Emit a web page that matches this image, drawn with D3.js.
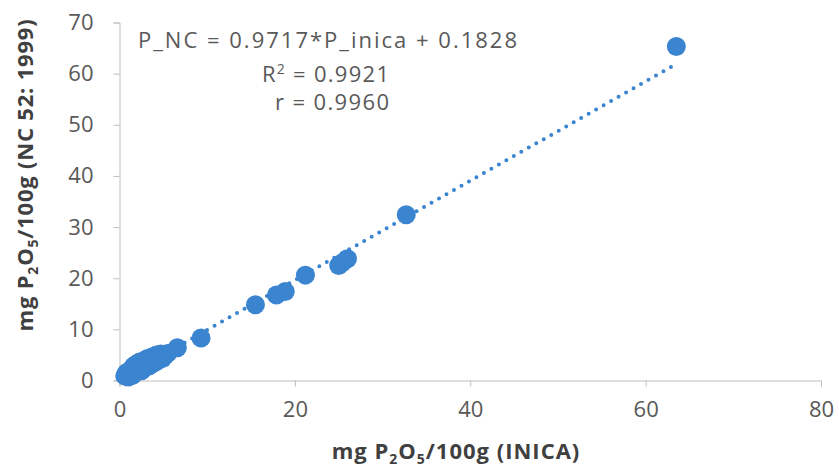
<!DOCTYPE html>
<html>
<head>
<meta charset="utf-8">
<script src="https://cdn.jsdelivr.net/npm/d3@7"></script>
<style>
  body { margin: 0; background: #fff; }
  svg { display: block; font-family: "Open Sans", sans-serif; }
</style>
</head>
<body>
<svg width="839" height="468"></svg>
<script>
// P measured by INICA method (x) vs NC 52:1999 (y)
const xValues = [0.6, 0.8, 1.0, 1.1, 1.2, 1.4, 1.5, 1.6, 1.8, 1.9, 2.0, 2.2, 2.3, 2.5, 2.6, 2.8, 2.9, 3.1, 3.2, 3.4,
  3.5, 3.7, 3.8, 4.0, 4.2, 4.3, 4.5, 4.7, 4.9, 5.2, 5.5, 6.6, 9.3, 15.5, 17.9, 18.9, 21.2, 25.0, 25.4, 26.0, 32.7, 63.5];
const yValues = [0.9, 1.5, 0.7, 1.8, 1.2, 2.2, 1.0, 2.8, 1.6, 3.2, 2.1, 2.6, 3.6, 1.9, 3.0, 3.9, 2.5, 3.3, 4.3, 2.9,
  3.7, 4.6, 3.3, 4.1, 5.0, 3.8, 4.5, 5.2, 4.3, 4.9, 5.3, 6.4, 8.3, 14.8, 16.7, 17.4, 20.6, 22.5, 23.0, 23.8, 32.4, 65.3];
const xTicks = [0, 20, 40, 60, 80];
const yTicks = [0, 10, 20, 30, 40, 50, 60, 70];
const slope = 0.9717, intercept = 0.1828;
const equationLine = "P_NC = 0.9717*P_inica + 0.1828";
const r2Value = "0.9921";
const rValue = "0.9960";

const svg = d3.select("svg");
const blue = "#3b84d0";
const axisGray = "#bfbfbf";
const textGray = "#595959";

const xScale = d3.scaleLinear().domain([0, 80]).range([119.5, 821]);
const yScale = d3.scaleLinear().domain([0, 70]).range([380.5, 22.5]);

/*x axis*/
const xAxis = d3.axisBottom(xScale).tickValues(xTicks).tickSize(6).tickPadding(15);
const gx = svg.append("g").attr("transform", `translate(0, ${yScale(0)})`).call(xAxis);
gx.select(".domain").attr("stroke", axisGray);
gx.selectAll(".tick line").attr("stroke", axisGray);
gx.selectAll(".tick text").attr("fill", textGray).style("font-size", "22px").style("font-family", "Open Sans");

/*y axis*/
const yAxis = d3.axisLeft(yScale).tickValues(yTicks).tickSize(6).tickPadding(20);
const gy = svg.append("g").attr("transform", `translate(${xScale(0)}, 0)`).call(yAxis);
gy.select(".domain").attr("stroke", axisGray);
gy.selectAll(".tick line").attr("stroke", axisGray);
gy.selectAll(".tick text").attr("fill", textGray).style("font-size", "22px").style("font-family", "Open Sans");

/*trend line*/
const xMin = d3.min(xValues), xMax = d3.max(xValues);
const trend = [[xMin, slope * xMin + intercept], [xMax, slope * xMax + intercept]];
svg.append("path")
  .attr("d", d3.line().x(d => xScale(d[0])).y(d => yScale(d[1]))(trend))
  .attr("fill", "none")
  .attr("stroke", blue)
  .attr("stroke-width", 4)
  .attr("stroke-linecap", "round")
  .attr("stroke-dasharray", "0 8.6");

/*points*/
const points = xValues.map((x, i) => ({ x: x, y: yValues[i] }));
svg.append("g").selectAll("circle")
  .data(points)
  .enter().append("circle")
  .attr("cx", d => xScale(d.x))
  .attr("cy", d => yScale(d.y))
  .attr("r", 9.5)
  .attr("fill", blue);

/*equation box*/
const eq = svg.append("g").attr("fill", textGray).style("font-size", "22px");
eq.append("text").attr("x", 138).attr("y", 48)
  .attr("textLength", 379).attr("lengthAdjust", "spacing")
  .text(equationLine);
const r2 = eq.append("text").attr("x", 262).attr("y", 82)
  .attr("textLength", 127).attr("lengthAdjust", "spacing");
r2.append("tspan").text("R");
r2.append("tspan").attr("dy", -8).style("font-size", "14px").text("2");
r2.append("tspan").attr("dy", 8).text(" = " + r2Value);
eq.append("text").attr("x", 275).attr("y", 110)
  .attr("textLength", 114).attr("lengthAdjust", "spacing")
  .text("r = " + rValue);

/*axis titles*/
function addTitle(g, tail) {
  g.append("tspan").text("mg P");
  g.append("tspan").attr("dy", 5).style("font-size", "14px").text("2");
  g.append("tspan").attr("dy", -5).text("O");
  g.append("tspan").attr("dy", 5).style("font-size", "14px").text("5");
  g.append("tspan").attr("dy", -5).text("/100g " + tail);
}
const xTitle = svg.append("text")
  .attr("x", 456).attr("y", 459)
  .attr("text-anchor", "middle")
  .attr("fill", "#404040")
  .style("font-size", "22px").style("font-weight", "bold").style("letter-spacing", "1px");
addTitle(xTitle, "(INICA)");

const yTitle = svg.append("text")
  .attr("transform", "translate(33, 175) rotate(-90)")
  .attr("text-anchor", "middle")
  .attr("fill", "#404040")
  .style("font-size", "22px").style("font-weight", "bold").style("letter-spacing", "0.8px");
addTitle(yTitle, "(NC 52: 1999)");
</script>
</body>
</html>
